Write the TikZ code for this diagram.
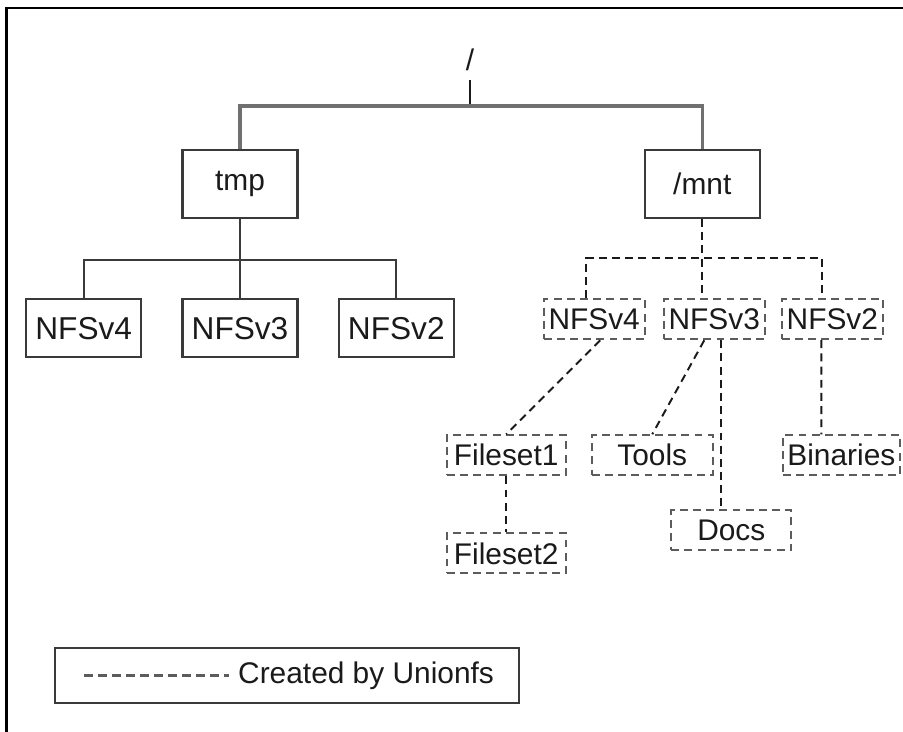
\documentclass[tikz,border=0pt]{standalone}
\usepackage{fontspec}
\setmainfont{Liberation Sans}
\usetikzlibrary{positioning}
\definecolor{ufsink}{HTML}{1A1A1A}
\definecolor{ufsline}{HTML}{3A3A3A}
\definecolor{ufsbus}{HTML}{707070}
\definecolor{ufsdash}{HTML}{5C5C5C}
\tikzset{
  dirbox/.style={
    rectangle,
    draw=ufsline,
    line width=1.3pt,
    text=ufsink,
    inner sep=0pt,
    font=\fontsize{17}{20}\selectfont
  },
  topdir/.style={dirbox, minimum width=2.30cm, minimum height=1.36cm},
  leafdir/.style={dirbox, minimum width=2.30cm, minimum height=1.16cm, font=\fontsize{18}{21}\selectfont},
  uniondir/.style={dirbox, draw=ufsdash, line width=1.2pt, dash pattern=on 4.5pt off 3pt, minimum width=2.02cm, minimum height=0.80cm},
  treeline/.style={draw=ufsline, line width=1.3pt},
  busline/.style={draw=ufsbus, line width=2pt},
  unionline/.style={draw=ufsink, line width=1.1pt, dash pattern=on 4.5pt off 3pt},
  legendbox/.style={dirbox, minimum width=9.28cm, minimum height=1.10cm}
}
\begin{document}
\begin{tikzpicture}
\useasboundingbox (0,0) rectangle (18.06,-14.64);
\draw[black, line width=1.4pt] (0.13,-14.64) -- (0.13,-0.16) -- (18.06,-0.16);
% root and first level
\node[font=\fontsize{17}{20}\selectfont, text=ufsink] (root) at (9.40,-1.20) {/};
\node[topdir] (tmp) at (4.80,-3.68) {tmp};
\node[topdir, right=6.90cm of tmp] (mnt) {/mnt};
% plain NFS mounts under tmp
\node[leafdir, below=1.58cm of tmp] (lthree) {NFSv3};
\node[leafdir, left=0.78cm of lthree] (lfour) {NFSv4};
\node[leafdir, right=0.78cm of lthree] (ltwo) {NFSv2};
% union mounts under /mnt
\node[uniondir, below=1.58cm of mnt, xshift=0.24cm] (rthree) {NFSv3};
\node[uniondir, left=0.34cm of rthree] (rfour) {NFSv4};
\node[uniondir, right=0.30cm of rthree] (rtwo) {NFSv2};
\node[uniondir, minimum width=2.38cm, below=1.88cm of rfour, xshift=-1.76cm] (fileone) {Fileset1};
\node[uniondir, minimum width=2.38cm, below=1.12cm of fileone] (filetwo) {Fileset2};
\node[uniondir, minimum width=2.42cm, below=1.88cm of rthree, xshift=-1.24cm] (tools) {Tools};
\node[uniondir, minimum width=2.40cm, below=3.38cm of rthree, xshift=0.34cm] (docs) {Docs};
\node[uniondir, minimum width=2.34cm, below=1.88cm of rtwo, xshift=0.18cm] (binaries) {Binaries};
% legend
\node[legendbox] (legend) at (5.74,-13.51) {};
\node[anchor=east, text=ufsink, font=\fontsize{17}{20}\selectfont] (legendtext) at ([xshift=-0.40cm]legend.east) {Created by Unionfs};
\draw[unionline, draw=ufsdash, line width=1.5pt, dash pattern=on 5pt off 3pt] ([xshift=0.60cm]legend.west) -- ([xshift=-0.06cm]legendtext.west);
% connectors
\draw[treeline, draw=ufsink, line width=1pt] ([yshift=-0.40cm]root.center) -- ([yshift=-0.92cm]root.center);
\draw[busline] (tmp.north) |- ([yshift=-0.92cm]root.center) -| (mnt.north);
\draw[treeline] (tmp.south) -- (lthree.north);
\draw[treeline] (lfour.north) |- ([yshift=-0.82cm]tmp.south) -| (ltwo.north);
\draw[unionline] (mnt.south) -- (mnt.south |- rthree.north);
\draw[unionline] ([xshift=-0.16cm]rfour.north) |- ([yshift=-0.78cm]mnt.south) -| ([xshift=-0.20cm]rtwo.north);
\draw[unionline] ([xshift=0.12cm]rfour.south) -- (fileone.north);
\draw[unionline] (fileone) -- (filetwo);
\draw[unionline] ([xshift=-0.20cm]rthree.south) -- (tools.north);
\draw[unionline] ([xshift=0.14cm]rthree.south) -- ([xshift=-0.20cm]docs.north);
\draw[unionline] ([xshift=-0.22cm]rtwo.south) -- ([xshift=-0.40cm]binaries.north);
\end{tikzpicture}
\end{document}
